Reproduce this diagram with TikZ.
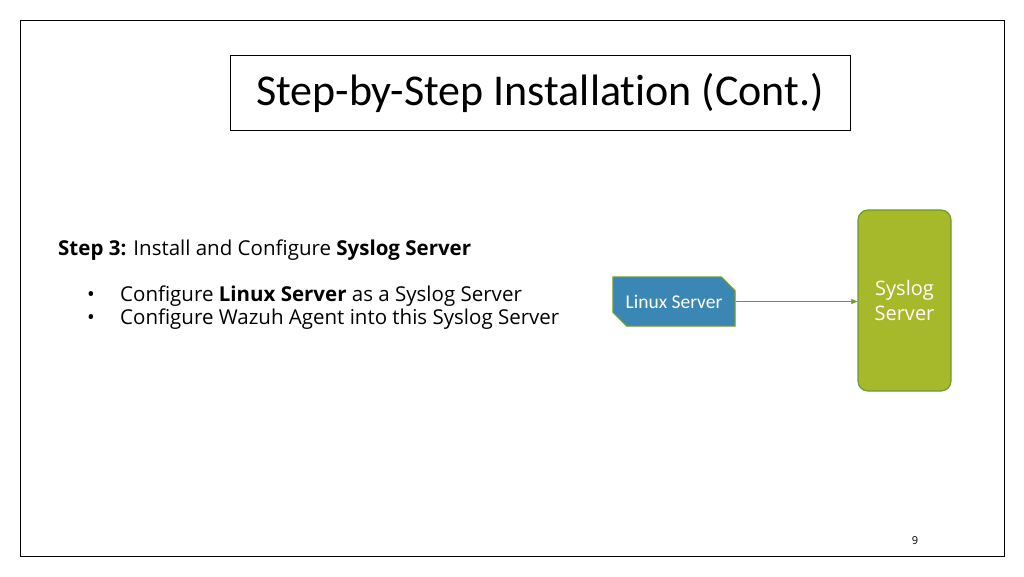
\documentclass[tikz,border=0pt]{standalone}
\usepackage{fontspec}
\setmainfont{Open Sans}
\newfontfamily\titlefont[Ligatures=NoCommon]{Carlito}
\usetikzlibrary{shapes.misc,arrows.meta}
\definecolor{boxblue}{HTML}{3A87B5}
\definecolor{boxgreen}{HTML}{A5B92A}
\definecolor{edgegreen}{HTML}{6E9A2E}
\begin{document}
\begin{tikzpicture}[x=1pt,y=-1pt]
\tikzset{
  linuxbox/.style={chamfered rectangle,chamfered rectangle xsep=7pt,chamfered rectangle ysep=7pt,
    chamfered rectangle corners={north east,south west},fill=boxblue,draw=edgegreen,line width=1.2pt,
    minimum width=122pt,minimum height=49pt,inner sep=0pt,text=white,font=\titlefont\fontsize{19.5}{22}\selectfont},
  sysbox/.style={rounded corners=10pt,fill=boxgreen,draw=edgegreen,line width=1.2pt,
    minimum width=93pt,minimum height=181pt,text=white,align=center,font=\fontsize{20}{25}\selectfont},
  bodytext/.style={anchor=base west,inner sep=0pt,font=\fontsize{20.5}{24}\selectfont}
}
\useasboundingbox (0,0) rectangle (1024,576);
\fill[white] (0,0) rectangle (1024,576);
\draw[line width=0.8pt] (20,20) rectangle (1004,556);
\node[draw,line width=1pt,minimum width=620pt,minimum height=75pt,font=\titlefont\fontsize{44}{48}\selectfont] (title) at (540,92.5) {Step-by-Step Installation (Cont.)};
% step text
\node[bodytext] (step) at (58,255) {\textbf{Step 3:} Install and Configure \textbf{Syslog Server}};
\node[bodytext] (b1) at (87,301) {•};
\node[bodytext] (l1) at (120,301) {Configure \textbf{Linux Server} as a Syslog Server};
\node[bodytext] (b2) at (87,324) {•};
\node[bodytext] (l2) at (120,324) {Configure Wazuh Agent into this Syslog Server};
% diagram
\node[linuxbox] (linux) at (674,301.5) {Linux Server};
\node[sysbox] (syslog) at (904.5,300.5) {Syslog\\Server};
\draw[edgegreen,line width=0.6pt,-{Triangle[length=6pt,width=5pt]}] (linux) -- (linux -| syslog.west);
\node[font=\fontsize{11}{13}\selectfont] (page) at (915,541) {9};
\end{tikzpicture}
\end{document}
